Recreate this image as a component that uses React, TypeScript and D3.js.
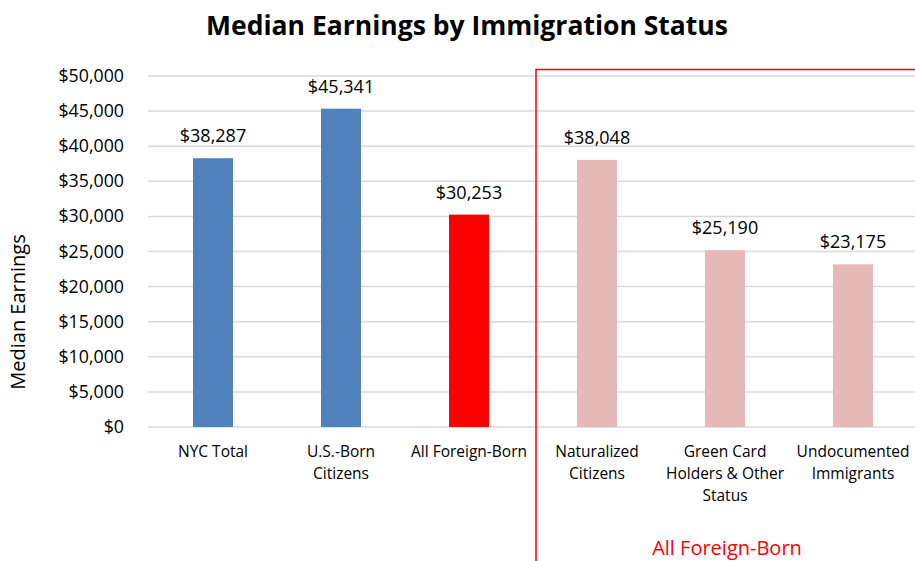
import React, { useEffect, useRef } from "react";
import * as d3 from "d3";

const categories = [
  ["NYC Total"],
  ["U.S.-Born", "Citizens"],
  ["All Foreign-Born"],
  ["Naturalized", "Citizens"],
  ["Green Card", "Holders & Other", "Status"],
  ["Undocumented", "Immigrants"],
];
const earnings = [38287, 45341, 30253, 38048, 25190, 23175];
const barColors = ["#4f81bd", "#4f81bd", "#ff0000", "#e6b9b8", "#e6b9b8", "#e6b9b8"];
const yTicks = [0, 5000, 10000, 15000, 20000, 25000, 30000, 35000, 40000, 45000, 50000];

const FONT = "'Open Sans', 'Noto Sans', sans-serif";

export default function App() {
  const ref = useRef<SVGSVGElement>(null);

  useEffect(() => {
    const svg = d3.select(ref.current);
    svg.selectAll("*").remove();

    const width = 915, height = 561;
    const left = 149, right = 917, top = 76, bottom = 427;

    const x = d3.scaleBand<number>()
      .domain(d3.range(categories.length))
      .range([left, right])
      .paddingInner(0.6875)
      .paddingOuter(0.34375);
    const y = d3.scaleLinear().domain([0, 50000]).range([bottom, top]);
    const money = (v: number) => "$" + d3.format(",")(v);

    svg.attr("width", width).attr("height", height);

    svg.append("text")
      .attr("x", 467).attr("y", 35)
      .attr("text-anchor", "middle")
      .attr("font-family", FONT)
      .attr("font-weight", "bold")
      .attr("font-size", 26.5)
      .text("Median Earnings by Immigration Status");

    // gridlines
    svg.append("g")
      .selectAll("line")
      .data(yTicks)
      .enter()
      .append("line")
      .attr("x1", 148).attr("x2", width)
      .attr("y1", d => y(d)).attr("y2", d => y(d))
      .attr("stroke", "#d9d9d9")
      .attr("stroke-width", 1.5);

    // y tick labels
    svg.append("g")
      .selectAll("text")
      .data(yTicks)
      .enter()
      .append("text")
      .attr("x", 124)
      .attr("y", d => y(d) + 6)
      .attr("text-anchor", "end")
      .attr("font-family", FONT)
      .attr("font-size", 17.8)
      .attr("fill", "#000")
      .text(money);

    svg.append("text")
      .attr("transform", "translate(25,312) rotate(-90)")
      .attr("text-anchor", "middle")
      .attr("font-family", FONT)
      .attr("font-size", 20)
      .text("Median Earnings");

    // bars
    svg.append("g")
      .selectAll("rect")
      .data(earnings)
      .enter()
      .append("rect")
      .attr("x", (d, i) => x(i)!)
      .attr("y", d => y(d))
      .attr("width", x.bandwidth())
      .attr("height", d => bottom - y(d))
      .attr("fill", (d, i) => barColors[i]);

    // value labels
    svg.append("g")
      .selectAll("text")
      .data(earnings)
      .enter()
      .append("text")
      .attr("x", (d, i) => x(i)! + x.bandwidth() / 2)
      .attr("y", d => y(d) - 16)
      .attr("text-anchor", "middle")
      .attr("font-family", FONT)
      .attr("font-size", 18)
      .text(money);

    // category labels
    const cat = svg.append("g")
      .selectAll("text")
      .data(categories)
      .enter()
      .append("text")
      .attr("text-anchor", "middle")
      .attr("font-family", FONT)
      .attr("font-size", 15.5)
      .attr("transform", (d, i) => `translate(${x(i)! + x.bandwidth() / 2},457)`);
    cat.selectAll("tspan")
      .data(d => d)
      .enter()
      .append("tspan")
      .attr("x", 0)
      .attr("y", (d, j) => j * 22)
      .text(d => d);

    // red bracket around foreign-born breakdown
    svg.append("path")
      .attr("d", `M536,${height} V69.5 H${width}`)
      .attr("fill", "none")
      .attr("stroke", "#ff0000")
      .attr("stroke-width", 1.5);

    svg.append("text")
      .attr("x", 727).attr("y", 555)
      .attr("text-anchor", "middle")
      .attr("font-family", FONT)
      .attr("font-size", 20)
      .attr("fill", "#ff0000")
      .text("All Foreign-Born");
  }, []);

  return <svg ref={ref} style={{ position: "absolute", left: 0, top: 0 }} />;
}
